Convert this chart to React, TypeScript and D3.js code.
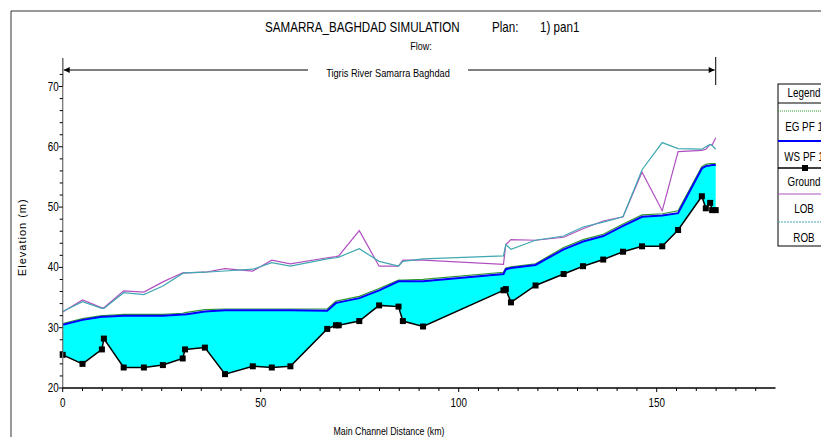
import React from "react";
import * as d3 from "d3";

const stations = [0, 5, 9.9, 10.4, 15.4, 20.5, 25.3, 30.3, 30.9, 35.9, 41, 48, 52.8, 57.5, 66.8, 69, 69.7, 74.9, 79.9, 84.8, 85.9, 91, 111.3, 111.9, 113.2, 119.4, 126.5, 131.4, 136.5, 141.5, 146.3, 151.4, 155.4, 161.4, 162.4, 163.5, 164.0, 164.9];
const ground = [25.5, 24.0, 26.4, 28.2, 23.4, 23.4, 23.8, 24.9, 26.4, 26.7, 22.3, 23.6, 23.4, 23.6, 29.8, 30.4, 30.4, 31.1, 33.7, 33.5, 31.1, 30.2, 36.2, 36.4, 34.2, 37.0, 38.9, 40.2, 41.3, 42.6, 43.5, 43.5, 46.2, 51.8, 49.8, 50.7, 49.5, 49.5];
const wsPF1 = [30.5, 31.3, 31.8, 31.8, 32.0, 32.0, 32.0, 32.2, 32.2, 32.7, 32.9, 32.9, 32.9, 32.9, 32.8, 34.1, 34.2, 34.9, 36.2, 37.7, 37.7, 37.7, 38.9, 39.7, 39.9, 40.4, 43.0, 44.3, 45.2, 46.9, 48.4, 48.6, 49.0, 56.4, 56.8, 56.9, 57.0, 57.0];
const egPF1 = [30.7, 31.5, 32.0, 32.0, 32.2, 32.2, 32.2, 32.4, 32.5, 33.0, 33.1, 33.1, 33.1, 33.1, 33.1, 34.4, 34.5, 35.2, 36.5, 37.9, 37.9, 38.0, 39.2, 39.9, 40.1, 40.6, 43.3, 44.6, 45.5, 47.2, 48.7, 48.9, 49.4, 56.7, 57.1, 57.2, 57.2, 57.2];
const lob = [32.6, 34.6, 33.3, 33.3, 36.1, 35.9, 37.6, 39.1, 39.1, 39.2, 39.8, 39.4, 41.2, 40.6, 41.6, 41.8, 41.9, 46.1, 40.2, 40.2, 41.2, 41.2, 40.5, 43.8, 44.6, 44.5, 45.0, 46.4, 47.7, 48.4, 55.8, 49.4, 59.2, 59.4, 59.6, 60.4, 60.3, 61.5];
const rob = [32.7, 34.3, 33.2, 33.2, 35.8, 35.5, 36.9, 39.0, 39.1, 39.2, 39.4, 39.7, 40.8, 40.2, 41.4, 41.6, 41.7, 43.1, 41.0, 40.2, 41.0, 41.4, 41.9, 43.8, 43.0, 44.5, 45.2, 46.7, 47.5, 48.4, 56.2, 60.7, 59.7, 59.6, 60.0, 60.4, 60.2, 59.6];

const xMajorTicks = [0, 50, 100, 150];
const yMajorTicks = [20, 30, 40, 50, 60, 70];
const legendItems = ["EG PF 1", "WS PF 1", "Ground", "LOB", "ROB"];

const W = 821, H = 437;
const SANS = "'Liberation Sans', Arial, sans-serif";

function NText({ x, y, size, anchor = "middle", sx = 0.82, children }: any) {
  return (
    <text transform={`translate(${x},${y}) scale(${sx},1)`} textAnchor={anchor} fontFamily={SANS} fontSize={size} fill="#000" style={{ whiteSpace: "pre" }}>
      {children}
    </text>
  );
}

export default function App() {
  const x = d3.scaleLinear().domain([0, 180]).range([62.7, 775.5]);
  const y = d3.scaleLinear().domain([20, 70]).range([388, 86.5]);
  const yTop = 74.7;

  const idx = stations.map((_, i) => i);
  const area = d3.area<number>().x(i => x(stations[i])).y0(i => y(ground[i])).y1(i => y(wsPF1[i]));
  const line = (arr: number[]) => d3.line<number>().x(i => x(stations[i])).y(i => y(arr[i]))(idx) || "";

  const xMinor = d3.range(0, 180, 5);
  const yMinor = d3.range(20, 74, 2);
  const x0 = x(0);
  const xEnd = x(stations[stations.length - 1]);
  const arrowY = 70;

  const lx = 778, lw = 60;
  const rowLineY = [111, 141, 168, 194, 222];
  const rowTextY = [127, 157, 182, 209, 238];
  const ltx = 804;

  return (
    <svg width={W} height={H} style={{ position: "absolute", left: 0, top: 0, background: "#fff" }}>
      <rect x={0} y={0} width={W} height={H} fill="#fff" />
      <path d={`M11,${H + 2} V11 H${W + 2}`} fill="none" stroke="#333" strokeWidth={1} />

      <NText x={265} y={32} size={14} anchor="start" sx={0.83}>SAMARRA_BAGHDAD SIMULATION</NText>
      <NText x={492} y={32} size={14} anchor="start" sx={0.83}>Plan:</NText>
      <NText x={540} y={32} size={14} anchor="start" sx={0.83}>1) pan1</NText>
      <NText x={421} y={50} size={11}>Flow:</NText>

      <line x1={x0} y1={58} x2={x0} y2={86} stroke="#000" />
      <line x1={xEnd} y1={57} x2={xEnd} y2={85} stroke="#000" />
      <line x1={x0 + 1} y1={arrowY} x2={308} y2={arrowY} stroke="#000" />
      <line x1={468} y1={arrowY} x2={xEnd - 1} y2={arrowY} stroke="#000" />
      <path d={`M${x0 + 1},${arrowY} l6,-3 l0,6 z`} fill="#000" />
      <path d={`M${xEnd - 1},${arrowY} l-6,-3 l0,6 z`} fill="#000" />
      <NText x={388} y={77} size={11} sx={0.84}>Tigris River Samarra Baghdad</NText>

      <path d={area(idx) || ""} fill="#00FFFF" stroke="none" />
      <path d={line(lob)} fill="none" stroke="#B050C0" strokeWidth={1.2} />
      <path d={line(rob)} fill="none" stroke="#40A8B0" strokeWidth={1.2} />
      <path d={line(egPF1)} fill="none" stroke="#2E9A2E" strokeWidth={1.2} />
      <path d={line(wsPF1)} fill="none" stroke="#0000FF" strokeWidth={2} />
      <path d={line(ground)} fill="none" stroke="#000" strokeWidth={1.5} />
      {stations.map((s, i) => (
        <rect key={i} x={x(s) - 3} y={y(ground[i]) - 3} width={6} height={6} fill="#000" />
      ))}

      <line x1={x0} y1={y(yTop)} x2={x0} y2={y(20)} stroke="#777" strokeWidth={1.3} />
      {yMinor.map(v => (
        <line key={v} x1={x0 - (v % 10 === 0 ? 4 : 3)} y1={y(v)} x2={x0} y2={y(v)} stroke="#000" />
      ))}
      {yMajorTicks.map(v => (
        <NText key={v} x={x0 - 4} y={y(v) + 4} size={12} anchor="end">{v}</NText>
      ))}
      <text transform={`translate(26,${(y(20) + y(70)) / 2}) rotate(-90)`} textAnchor="middle" fontFamily={SANS} fontSize={11} letterSpacing={1} fill="#000">Elevation (m)</text>

      <line x1={x0} y1={y(20)} x2={x(180)} y2={y(20)} stroke="#000" strokeWidth={1.3} />
      {xMinor.map(v => (
        <line key={v} x1={x(v)} y1={y(20)} x2={x(v)} y2={y(20) + (v % 50 === 0 ? 4 : 3)} stroke="#000" />
      ))}
      {xMajorTicks.map(v => (
        <NText key={v} x={x(v)} y={y(20) + 19} size={12}>{v}</NText>
      ))}
      <NText x={389} y={435} size={11} sx={0.8}>Main Channel Distance (km)</NText>

      <rect x={lx} y={84} width={lw} height={162} fill="#fff" stroke="#000" />
      <line x1={lx} y1={103} x2={lx + lw} y2={103} stroke="#000" />
      <NText x={ltx} y={97} size={12}>Legend</NText>
      <line x1={lx} y1={rowLineY[0]} x2={lx + lw} y2={rowLineY[0]} stroke="#2E9A2E" strokeDasharray="1,1" />
      <line x1={lx} y1={rowLineY[1]} x2={lx + lw} y2={rowLineY[1]} stroke="#0000FF" strokeWidth={2} />
      <line x1={lx} y1={rowLineY[2]} x2={lx + lw} y2={rowLineY[2]} stroke="#000" strokeWidth={1.5} />
      <rect x={lx + 24} y={rowLineY[2] - 3} width={6} height={6} fill="#000" />
      <line x1={lx} y1={rowLineY[3]} x2={lx + lw} y2={rowLineY[3]} stroke="#B050C0" strokeWidth={1.2} />
      <line x1={lx} y1={rowLineY[4]} x2={lx + lw} y2={rowLineY[4]} stroke="#40A8B0" strokeWidth={1.2} strokeDasharray="2,1" />
      {legendItems.map((t, i) => (
        <NText key={t} x={ltx} y={rowTextY[i] + 4} size={12}>{t}</NText>
      ))}
    </svg>
  );
}
